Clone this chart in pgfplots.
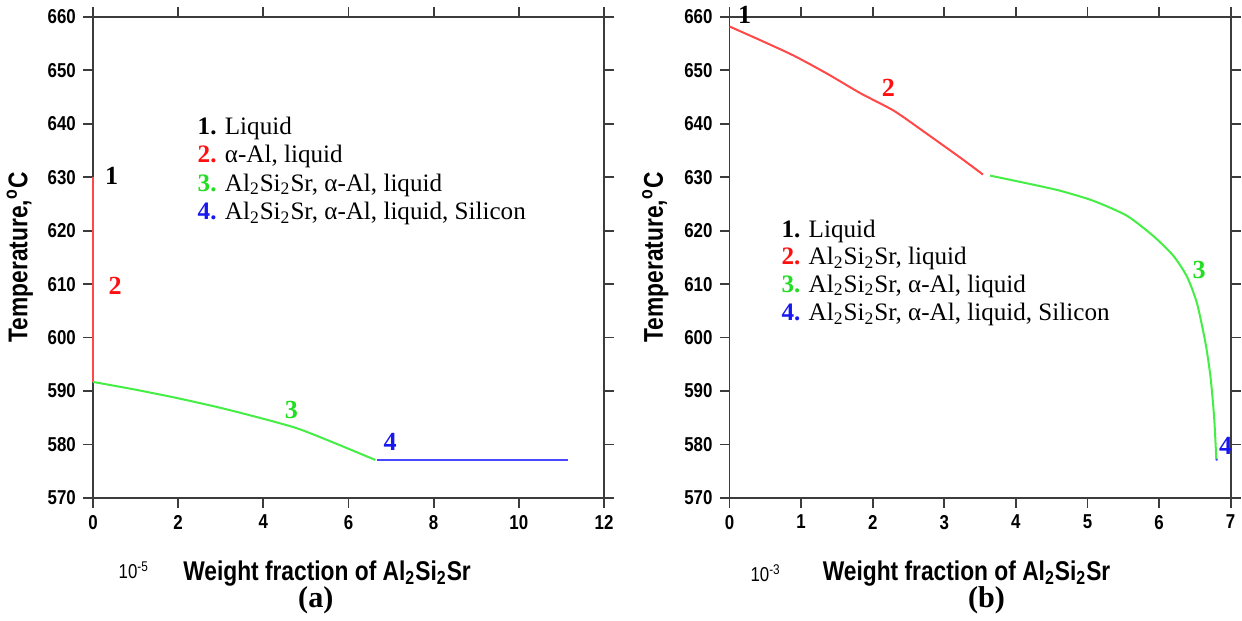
\documentclass[border=0pt]{standalone}
\usepackage{fontspec}
\setmainfont{Liberation Serif}
\newfontfamily\narrow[FakeStretch=0.84]{Liberation Sans}
\usepackage{pgfplots}
\pgfplotsset{compat=1.18}

\definecolor{axgray}{HTML}{3C3C3C}
\definecolor{lred}{HTML}{FF4848}
\definecolor{lgreen}{HTML}{44EE44}
\definecolor{lblue}{HTML}{4848FF}
\definecolor{tred}{HTML}{FF1010}
\definecolor{tgreen}{HTML}{22DD22}
\definecolor{tblue}{HTML}{1818EE}

\pgfplotsset{
  phase/.style={
    scale only axis,
    height=239.5pt,
    ymin=570, ymax=660,
    ytick={570,580,...,660},
    tick pos=both,
    tick align=outside,
    major tick length=5pt,
    axis line style={draw=axgray, line width=0.9pt},
    every tick/.style={draw=axgray, line width=0.9pt},
    /pgf/number format/assume math mode=true,
    ticklabel style={font=\narrow\bfseries\fontsize{10}{11}\selectfont, text=black},
    label style={font=\narrow\bfseries\fontsize{13.5}{14}\selectfont},
    clip=false,
  },
}
\tikzset{
  curve/.style={line width=1pt, smooth, tension=0.4},
  num/.style={font=\bfseries\fontsize{13}{14}\selectfont},
  leg/.style={anchor=west, inner sep=0pt, font=\fontsize{12.5}{13}\selectfont},
}

\begin{document}
\begin{tikzpicture}
% ---------- (a)
\begin{axis}[phase,
  at={(0pt,0pt)},
  width=254.5pt,
  xmin=0, xmax=12, xtick={0,2,...,12},
  xlabel={Weight fraction of Al\textsubscript{2}Si\textsubscript{2}Sr},
  xlabel style={at={(axis description cs:0.458,-0.157)}, anchor=center},
  ylabel={Temperature,\textsuperscript{o}C},
  ylabel style={at={(axis description cs:-0.143,0.5)}, anchor=center},
]
\addplot[curve, lred] coordinates {(0,630) (0,591.7)};
\addplot[curve, lgreen] coordinates {
  (0,591.7) (1.03,590.2) (2.02,588.6) (3.02,586.8) (4.0,584.8)
  (4.8,583.0) (5.6,580.5) (6.63,577.1)
};
\addplot[line width=1pt, lblue] coordinates {(6.66,577.1) (11.15,577.1)};

\node[num, anchor=west] at (axis cs:0.12,630.3) {1};
\node[num, text=tred, anchor=west] at (axis cs:0.2,609.6) {2};
\node[num, text=tgreen] at (axis cs:4.66,586.4) {3};
\node[num, text=tblue] at (axis cs:6.98,580.4) {4};

\node[leg] at (axis cs:2.45,639.1) {\textbf{1.} Liquid};
\node[leg] at (axis cs:2.45,633.8) {\textbf{\color{tred}2.} α-Al, liquid};
\node[leg] at (axis cs:2.45,628.5) {\textbf{\color{tgreen}3.} Al\textsubscript{2}Si\textsubscript{2}Sr, α-Al, liquid};
\node[leg] at (axis cs:2.45,623.2) {\textbf{\color{tblue}4.} Al\textsubscript{2}Si\textsubscript{2}Sr, α-Al, liquid, Silicon};

\node[font=\narrow\fontsize{10}{11}\selectfont] at (axis description cs:0.08,-0.150) {10\textsuperscript{-5}};
\node[font=\bfseries\fontsize{15}{16}\selectfont] at (axis description cs:0.436,-0.212) {(a)};
\end{axis}

% ---------- (b)
\begin{axis}[phase,
  at={(317pt,0pt)},
  width=249.5pt,
  xmin=0, xmax=7, xtick={0,1,...,7},
  xlabel={Weight fraction of Al\textsubscript{2}Si\textsubscript{2}Sr},
  xlabel style={at={(axis description cs:0.473,-0.157)}, anchor=center},
  ylabel={Temperature,\textsuperscript{o}C},
  ylabel style={at={(axis description cs:-0.148,0.5)}, anchor=center},
]
\addplot[curve, lred] coordinates {
  (0,658.2) (0.42,655.7) (0.89,652.8) (1.36,649.4) (1.83,645.7)
  (2.30,642.4) (2.77,638.0) (3.24,633.5) (3.54,630.5)
};
\addplot[curve, lgreen] coordinates {
  (3.64,630.3) (4.14,628.9) (4.61,627.5) (5.08,625.6) (5.55,622.8)
  (5.92,619.0) (6.20,615.3) (6.39,611.4) (6.53,606.4) (6.65,598.9)
  (6.72,592.5) (6.77,585.0) (6.80,577.2)
};
\addplot[line width=1pt, lblue] coordinates {(6.80,577.3) (6.81,577.0)};

\node[num, anchor=west] at (axis cs:0.02,660.3) {1};
\node[num, text=tred] at (axis cs:2.22,646.8) {2};
\node[num, text=tgreen] at (axis cs:6.56,612.6) {3};
\node[num, text=tblue] at (axis cs:6.93,579.7) {4};

\node[leg] at (axis cs:0.72,619.9) {\textbf{1.} Liquid};
\node[leg] at (axis cs:0.72,614.8) {\textbf{\color{tred}2.} Al\textsubscript{2}Si\textsubscript{2}Sr, liquid};
\node[leg] at (axis cs:0.72,609.6) {\textbf{\color{tgreen}3.} Al\textsubscript{2}Si\textsubscript{2}Sr, α-Al, liquid};
\node[leg] at (axis cs:0.72,604.3) {\textbf{\color{tblue}4.} Al\textsubscript{2}Si\textsubscript{2}Sr, α-Al, liquid, Silicon};

\node[font=\narrow\fontsize{10}{11}\selectfont] at (axis description cs:0.072,-0.156) {10\textsuperscript{-3}};
\node[font=\bfseries\fontsize{15}{16}\selectfont] at (axis description cs:0.513,-0.212) {(b)};
\end{axis}
\end{tikzpicture}
\end{document}
